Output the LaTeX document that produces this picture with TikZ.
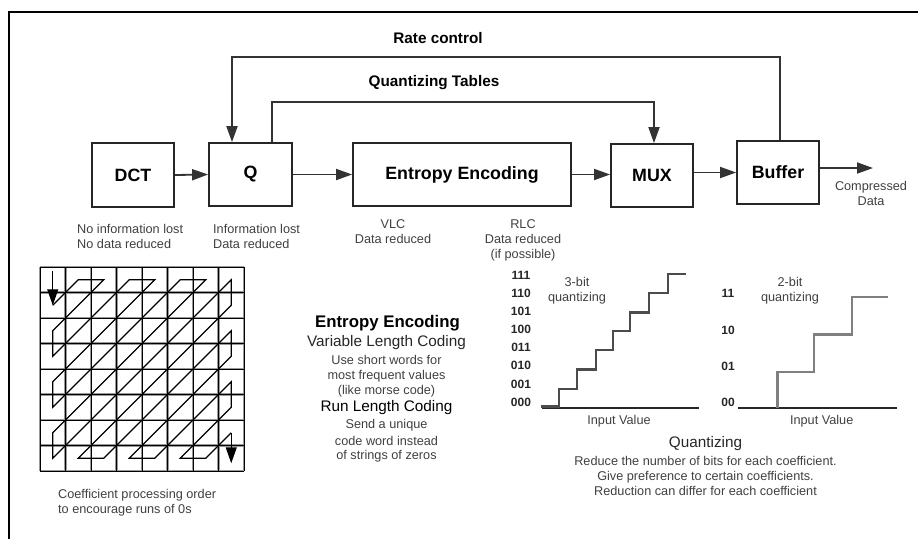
\documentclass[tikz,border=0pt]{standalone}
\usepackage{fontspec}
\setmainfont{Liberation Sans}
\usetikzlibrary{arrows.meta}

% font sizes (1pt = 1 unit of the picture)
\newcommand\szBox{\fontsize{17.8}{20}\bfseries\selectfont}
\newcommand\szHead{\fontsize{15.3}{18}\bfseries\selectfont}
\newcommand\szSmall{\fontsize{12.7}{15}\selectfont}
\newcommand\szMid{\fontsize{15.3}{18}\selectfont}
\newcommand\szTitle{\fontsize{16.8}{19}\bfseries\selectfont}
\newcommand\szDigit{\fontsize{12}{14}\bfseries\selectfont}

\begin{document}
\begin{tikzpicture}[x=1pt,y=-1pt,
  blk/.style={draw=black!85, line width=1.8pt, inner sep=0, font=\szBox},
  conn/.style={draw=black!80, line width=1.8pt, -{Triangle[length=16pt,width=11pt]}},
  head/.style={inner sep=0, font=\szHead},
  note/.style={inner sep=0, font=\szSmall, text=black!75, align=center},
  notel/.style={note, align=left, anchor=west},
  mid/.style={inner sep=0, font=\szMid, text=black!85},
  digit/.style={inner sep=0, font=\szDigit, text=black!85},
  frame/.style={draw=black, line width=1.8pt},
  gridg/.style={draw=black!40, line width=2.8pt},
  gridk/.style={draw=black, line width=1pt},
  zig/.style={draw=black, line width=1.2pt, line join=miter},
  zigtip/.style={zig, -{Triangle[length=16pt,width=11pt]}},
  axis/.style={draw=black!85, line width=1.8pt},
  stairA/.style={draw=black!70, line width=2.2pt, line join=miter},
  stairB/.style={draw=black!50, line width=2.4pt, line join=miter}]

\path[use as bounding box] (0,0) rectangle (918,539);

% outer frame (top and left edges)
\draw[frame] (918,12) -- (9,12) -- (9,539);

% ---------- block chain ----------
\node[blk, minimum width=82pt, minimum height=64pt] (dct) at (133,175) {DCT};
\node[blk, minimum width=83pt, minimum height=63pt] (q) at (250.5,174.5) {Q};
\node[blk, minimum width=218pt, minimum height=63pt] (ent) at (462,174.5) {Entropy Encoding};
\node[blk, minimum width=82pt, minimum height=63pt] (mux) at (652,175.5) {MUX};
\node[blk, minimum width=82pt, minimum height=63pt] (buf) at (778,172.5) {Buffer};
\coordinate (out) at (873,168);

\draw[conn] (dct.east) -- (q.west);
\draw[conn] (q.east) -- (ent.west);
\draw[conn] (ent.east) -- (ent.east -| mux.west);
\draw[conn] (mux.east |- buf.west) -- (buf.west);
\draw[conn] (buf.east |- out) -- (out);

% feedback paths
\coordinate (rc) at (500,57);
\coordinate (qt) at (450,102);
\draw[conn] ([xshift=2pt]buf.north) |- (rc) -| ([xshift=-18.5pt]q.north);
\draw[conn] ([xshift=21.5pt]q.north) |- (qt) -| ([xshift=2pt]mux.north);
\node[head] (rclab) at (438,38) {Rate control};
\node[head] (qtlab) at (434,83) {Quantizing Tables};

% notes under the blocks
\node[notel] (ndct) at (77,236.7) {No information lost\\No data reduced};
\node[notel] (nq) at (213,236.7) {Information lost\\Data reduced};
\node[note] (nvlc) at (393,231.7) {VLC\\Data reduced};
\node[note] (nrlc) at (523,240) {RLC\\Data reduced\\(if possible)};
\node[note] (ncd) at (871,193) {Compressed\\Data};

% ---------- zig-zag scan over the 8x8 block ----------
\foreach \i in {0,...,8} {
  \draw[gridg] ({40+25.5*\i},267) -- ({40+25.5*\i},471);
  \draw[gridg] (40,{267+25.5*\i}) -- (244,{267+25.5*\i});
}
\foreach \i in {0,...,8} {
  \draw[gridk] ({40+25.5*\i},267) -- ({40+25.5*\i},471);
  \draw[gridk] (40,{267+25.5*\i}) -- (244,{267+25.5*\i});
}
\foreach \i in {0,...,7} {
  \foreach \j in {0,...,7} {
    \coordinate (c\i\j) at ({52.75+25.5*\i},{279.75+25.5*\j});
  }
}
\draw[zigtip] ([yshift=8.5pt]c00) -- (c01);
\draw[zig] (c01) -- (c10) -- (c20) -- (c02) -- (c03) -- (c30) -- (c40)
  -- (c04) -- (c05) -- (c50) -- (c60) -- (c06) -- (c07) -- (c70) -- (c71)
  -- (c17) -- (c27) -- (c72) -- (c73) -- (c37) -- (c47) -- (c74) -- (c75)
  -- (c57) -- (c67) -- (c76);
\draw[zigtip] (c76) -- ([yshift=-5pt]c77);
\node[notel] (ncoef) at (58,502.5) {Coefficient processing order\\to encourage runs of 0s};

% ---------- entropy encoding text ----------
\node[inner sep=0, font=\szTitle] (et) at (387.5,322.7) {Entropy Encoding};
\node[mid] (e1) at (386.5,342.7) {Variable Length Coding};
\node[note] (e2) at (386.5,360) {Use short words for};
\node[note] (e3) at (386.5,376.2) {most frequent values};
\node[note] (e4) at (386.5,391.7) {(like morse code)};
\node[mid, text=black] (e5) at (386.5,407.3) {Run Length Coding};
\node[note] (e6) at (386.5,425) {Send a unique};
\node[note] (e7) at (386.5,440.7) {code word instead};
\node[note] (e8) at (386.5,456.7) {of strings of zeros};

% ---------- 3-bit quantizer ----------
\foreach \v [count=\k from 0] in {000,001,010,011,100,101,110,111}
  \node[digit] (l3\k) at (521,{402-18.1*\k}) {\v};
\draw[axis] (541.7,407.7) -- (699,407.7);
\draw[stairA] (541,406.5) -- (559,406.5) -- (559,388.7) -- (577,388.7)
  -- (577,369.5) -- (596,369.5) -- (596,350.3) -- (613,350.3)
  -- (613,331) -- (630,331) -- (630,312.5) -- (649,312.5)
  -- (649,293.3) -- (668,293.3) -- (668,274.3) -- (686,274.3);
\node[note] (t3) at (577,290.5) {3-bit\\quantizing};
\node[note] (in3) at (619,421) {Input Value};

% ---------- 2-bit quantizer ----------
\foreach \v/\yy [count=\k from 0] in {00/402.5,01/366.5,10/330.2,11/293.5}
  \node[digit] (l2\k) at (728,\yy) {\v};
\draw[axis] (738,407.7) -- (896.7,407.7);
\draw[stairB] (777.3,407.7) -- (777.3,372) -- (814,372) -- (814,334.3)
  -- (851.7,334.3) -- (851.7,297) -- (887.7,297);
\node[note] (t2) at (790,290.5) {2-bit\\quantizing};
\node[note] (in2) at (821.7,421) {Input Value};

% ---------- quantizing text ----------
\node[mid] (qz) at (705.5,443.3) {Quantizing};
\node[note] (qzt) at (705.5,476) {Reduce the number of bits for each coefficient.\\Give preference to certain coefficients.\\Reduction can differ for each coefficient};

\end{tikzpicture}
\end{document}
